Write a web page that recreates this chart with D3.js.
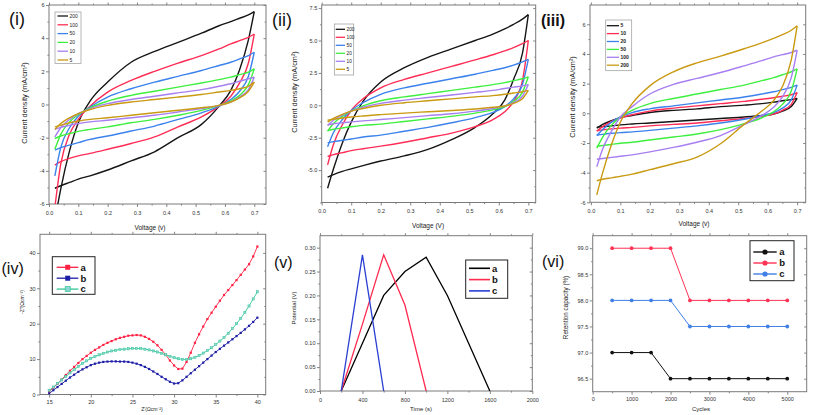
<!DOCTYPE html>
<html><head><meta charset="utf-8">
<script src="https://cdn.jsdelivr.net/npm/d3@7"></script>
<style>body{margin:0;background:#fff} svg{display:block} text{font-family:"Liberation Sans",Arial,sans-serif}</style>
</head><body><svg id="c" width="813" height="415"></svg>
<script>
// ---------- DATA ----------
// CV panels: shared voltage grid (V)
const voltage = [0.02,0.04,0.07,0.1,0.14,0.2,0.28,0.36,0.44,0.52,0.58,0.62,0.65,0.68,0.7];

// Panel (i) scan rates and current density (mA/cm2): forward (up) and reverse (down) branches
const ratesI = ["200","100","50","20","10","5"];
const upI = [
  [-7.0,-5.1,-2.8,-1.1,0.2,1.35,2.55,3.2,3.75,4.3,4.75,5.0,5.2,5.4,5.6],
  [-6.2,-3.6,-1.8,-0.9,-0.1,0.75,1.45,2.0,2.5,2.95,3.35,3.65,3.85,4.05,4.25],
  [-4.3,-2.6,-1.4,-0.7,-0.15,0.45,0.95,1.35,1.7,2.05,2.35,2.55,2.75,2.95,3.15],
  [-2.7,-1.8,-1.05,-0.6,-0.2,0.2,0.55,0.8,1.05,1.3,1.5,1.65,1.8,1.95,2.15],
  [-1.95,-1.4,-0.9,-0.55,-0.25,0.05,0.3,0.5,0.7,0.9,1.1,1.25,1.4,1.55,1.65],
  [-1.5,-1.15,-0.8,-0.55,-0.3,-0.05,0.15,0.3,0.45,0.6,0.75,0.85,0.95,1.1,1.35]
];
const downI = [
  [-5.05,-4.9,-4.7,-4.5,-4.3,-3.95,-3.4,-2.85,-2.0,-1.2,-0.1,0.85,2.1,3.9,5.6],
  [-3.65,-3.45,-3.25,-3.1,-2.95,-2.7,-2.35,-1.95,-1.35,-0.75,-0.1,0.5,1.3,2.5,4.25],
  [-2.75,-2.6,-2.45,-2.3,-2.1,-1.9,-1.6,-1.3,-0.9,-0.5,-0.1,0.3,0.8,1.7,3.15],
  [-2.05,-1.9,-1.75,-1.62,-1.5,-1.35,-1.1,-0.9,-0.65,-0.35,-0.05,0.2,0.55,1.2,2.15],
  [-1.5,-1.38,-1.25,-1.15,-1.05,-0.95,-0.8,-0.65,-0.45,-0.25,-0.05,0.15,0.45,0.9,1.65],
  [-1.35,-1.25,-1.1,-1.0,-0.9,-0.8,-0.65,-0.5,-0.35,-0.2,-0.05,0.15,0.4,0.8,1.35]
];

// Panel (ii)
const ratesII = ["200","100","50","20","10","5"];
const upII = [
  [-6.4,-4.9,-2.9,-1.3,0.3,1.8,2.9,3.7,4.35,5.0,5.5,5.9,6.25,6.65,7.0],
  [-4.6,-3.0,-1.5,-0.4,0.5,1.35,2.0,2.5,3.0,3.5,3.9,4.2,4.45,4.75,5.0],
  [-3.2,-2.1,-1.1,-0.4,0.2,0.85,1.35,1.7,2.05,2.4,2.7,2.9,3.1,3.35,3.55],
  [-2.0,-1.4,-0.85,-0.45,-0.05,0.35,0.65,0.9,1.15,1.4,1.6,1.75,1.9,2.05,2.2],
  [-1.55,-1.15,-0.75,-0.45,-0.15,0.15,0.4,0.6,0.8,1.0,1.15,1.3,1.4,1.5,1.6],
  [-1.3,-1.0,-0.7,-0.45,-0.25,0.0,0.2,0.35,0.5,0.65,0.75,0.85,0.95,1.05,1.15]
];
const downII = [
  [-5.55,-5.35,-5.1,-4.9,-4.65,-4.3,-3.9,-3.4,-2.65,-1.7,-0.65,0.4,2.0,4.0,7.0],
  [-3.95,-3.8,-3.65,-3.5,-3.35,-3.15,-2.85,-2.5,-2.15,-1.65,-1.1,-0.5,0.3,1.9,5.0],
  [-2.9,-2.8,-2.7,-2.6,-2.45,-2.3,-2.0,-1.7,-1.35,-0.95,-0.55,-0.1,0.5,1.6,3.55],
  [-1.95,-1.85,-1.75,-1.65,-1.55,-1.45,-1.25,-1.05,-0.85,-0.6,-0.35,-0.1,0.3,1.0,2.2],
  [-1.5,-1.42,-1.35,-1.28,-1.2,-1.1,-0.95,-0.8,-0.65,-0.45,-0.25,-0.05,0.2,0.7,1.6],
  [-1.15,-1.08,-0.98,-0.9,-0.82,-0.72,-0.6,-0.5,-0.4,-0.28,-0.15,-0.05,0.15,0.5,1.15]
];

// Panel (iii)
const ratesIII = ["5","10","20","50","100","200"];
const upIII = [
  [-1.0,-0.75,-0.5,-0.3,-0.15,0.05,0.2,0.3,0.45,0.55,0.65,0.75,0.85,0.92,1.0],
  [-1.2,-0.9,-0.55,-0.3,-0.1,0.15,0.35,0.5,0.65,0.8,0.95,1.05,1.15,1.25,1.4],
  [-1.5,-1.1,-0.6,-0.25,0.05,0.3,0.5,0.7,0.9,1.1,1.3,1.45,1.6,1.75,1.9],
  [-2.35,-1.6,-0.8,-0.25,0.2,0.65,1.0,1.3,1.6,1.9,2.2,2.4,2.6,2.8,3.0],
  [-3.6,-2.4,-1.2,-0.25,0.45,1.3,1.95,2.35,2.75,3.2,3.55,3.8,3.95,4.1,4.25],
  [-5.5,-4.0,-2.1,-0.6,0.65,1.85,2.8,3.4,3.85,4.35,4.75,5.05,5.3,5.6,5.9]
];
const downIII = [
  [-0.95,-0.9,-0.85,-0.78,-0.72,-0.65,-0.55,-0.45,-0.35,-0.25,-0.15,-0.05,0.15,0.45,1.0],
  [-1.18,-1.12,-1.05,-1.0,-0.95,-0.85,-0.75,-0.65,-0.5,-0.35,-0.2,-0.05,0.2,0.6,1.4],
  [-1.48,-1.42,-1.35,-1.3,-1.25,-1.15,-1.0,-0.85,-0.65,-0.4,-0.15,0.05,0.35,0.9,1.9],
  [-2.22,-2.17,-2.1,-2.02,-1.95,-1.8,-1.6,-1.4,-1.1,-0.7,-0.3,0.1,0.6,1.5,3.0],
  [-3.1,-3.05,-2.97,-2.9,-2.8,-2.6,-2.3,-1.95,-1.5,-0.75,-0.15,0.4,1.1,2.4,4.25],
  [-4.55,-4.45,-4.35,-4.25,-4.1,-3.8,-3.4,-2.95,-2.05,-0.75,0.15,0.85,1.8,3.6,5.9]
];

// Panel (iv) impedance: Z' (ohm cm-2) and -Z''
const zReal = [15,15.5,16,16.5,17,17.5,18,18.5,19,19.5,20,20.5,21,21.5,22,22.5,23,23.5,24,24.5,25,25.5,26,26.5,27,27.5,28,28.5,29,29.5,30,30.5,31,31.5,32,32.5,33,33.5,34,34.5,35,35.5,36,36.5,37,37.5,38,38.5,39,39.5,40];
const zImagA = [0.8,1.9,3.0,4.2,5.5,6.7,7.8,8.9,10.0,10.9,11.8,12.6,13.3,14.0,14.6,15.1,15.6,16.0,16.3,16.6,16.7,16.8,16.7,16.3,15.7,14.9,13.9,12.6,11.2,9.6,8.2,7.2,7.3,9.2,11.8,14.6,17.0,19.2,21.3,23.1,24.8,26.5,28.1,29.5,30.9,32.3,33.8,35.3,36.8,39.0,41.8];
const zImagB = [0.3,1.2,2.1,3.0,3.9,4.8,5.6,6.4,7.1,7.7,8.3,8.7,9.0,9.2,9.3,9.35,9.35,9.3,9.3,9.2,9.0,8.7,8.3,7.8,7.2,6.5,5.8,5.0,4.3,3.6,3.1,3.2,4.0,5.0,6.0,7.0,8.0,9.0,10.0,11.0,12.0,12.9,13.8,14.7,15.6,16.5,17.4,18.4,19.4,20.5,21.7];
const zImagC = [1.2,2.1,3.1,4.1,5.1,6.1,7.0,7.9,8.8,9.5,10.2,10.7,11.2,11.6,12.0,12.3,12.5,12.7,12.8,12.9,13.0,13.0,13.0,12.8,12.6,12.3,12.0,11.6,11.2,10.8,10.4,10.1,9.9,9.9,10.1,10.5,11.0,11.7,12.4,13.2,14.1,15.1,16.1,17.3,18.6,20.0,21.5,23.2,25.0,27.0,29.0];

// Panel (v) charge-discharge: time (s), potential (V)
const gcdTimeA = [200,400,600,800,1000,1200,1600];
const gcdPotA  = [0,0.10,0.20,0.25,0.28,0.20,0];
const gcdTimeB = [200,400,600,800,1000];
const gcdPotB  = [0,0.14,0.285,0.18,0];
const gcdTimeC = [200,400,600];
const gcdPotC  = [0,0.285,0];

// Panel (vi) cycling retention
const cycles = [500,1000,1500,2000,2500,3000,3500,4000,4500,5000];
const retA = [97,97,97,96.5,96.5,96.5,96.5,96.5,96.5,96.5];
const retB = [99,99,99,99,98,98,98,98,98,98];
const retC = [98,98,98,98,97.5,97.5,97.5,97.5,97.5,97.5];
const seriesNames = ["a","b","c"];

// Tick values
const cvXTicks = [0,0.1,0.2,0.3,0.4,0.5,0.6,0.7];
const cvXMinor = [0.05,0.15,0.25,0.35,0.45,0.55,0.65];
const cvYTicks = [-6,-4,-2,0,2,4,6];
const cvYMinor = [-5,-3,-1,1,3,5];
const iiYTicks = [-5,-2.5,0,2.5,5,7.5];
const iiYMinor = [-7.5,-6.25,-3.75,-1.25,1.25,3.75,6.25];
const ivXTicks = [15,20,25,30,35,40];
const ivXMinor = [17.5,22.5,27.5,32.5,37.5];
const ivYTicks = [0,10,20,30,40];
const ivYMinor = [5,15,25,35];
const vXTicks = [0,400,800,1200,1600,2000];
const vXMinor = [200,600,1000,1400,1800];
const vYTicks = [0,0.05,0.1,0.15,0.2,0.25,0.3];
const vYMinor = [0.025,0.075,0.125,0.175,0.225,0.275];
const viXTicks = [0,1000,2000,3000,4000,5000];
const viXMinor = [500,1500,2500,3500,4500];
const viYTicks = [96.5,97,97.5,98,98.5,99];
const viYMinor = [96.75,97.25,97.75,98.25,98.75];

// ---------- DRAWING ----------
const svg = d3.select("#c");
const FONT = '"Liberation Sans",Arial,sans-serif';
let clipN = 0;

function makePanel(P) {
  const x = d3.scaleLinear().domain(P.xd).range([P.l, P.r]);
  const y = d3.scaleLinear().domain(P.yd).range([P.b, P.t]);
  const g = svg.append("g");
  const id = "clip" + (clipN++);
  svg.append("clipPath").attr("id", id).append("rect")
    .attr("x", P.l).attr("y", P.t).attr("width", P.r - P.l).attr("height", P.b - P.t);
  const ax = (gen, tr, fs) => {
    const a = g.append("g").attr("transform", tr).call(gen);
    a.select(".domain").remove();
    a.selectAll("line").attr("stroke", "#666").attr("stroke-width", 0.8);
    a.selectAll("text").attr("fill", "#333").attr("font-size", fs || 5.5).attr("font-family", FONT);
    return a;
  };
  ax(d3.axisBottom(x).tickValues(P.xt).tickSize(3).tickPadding(P.xpad).tickFormat(P.xf), `translate(0,${P.b})`);
  ax(d3.axisBottom(x).tickValues(P.xm).tickSize(1.6).tickFormat(""), `translate(0,${P.b})`);
  ax(d3.axisLeft(y).tickValues(P.yt).tickSize(3).tickPadding(1.5).tickFormat(P.yf), `translate(${P.l},0)`);
  ax(d3.axisLeft(y).tickValues(P.ym).tickSize(1.6).tickFormat(""), `translate(${P.l},0)`);
  ax(d3.axisTop(x).tickValues(P.xt).tickSize(2.5).tickFormat(""), `translate(0,${P.t})`);
  ax(d3.axisTop(x).tickValues(P.xm).tickSize(1.4).tickFormat(""), `translate(0,${P.t})`);
  ax(d3.axisRight(y).tickValues(P.yt).tickSize(-2.5).tickFormat(""), `translate(${P.r},0)`);
  ax(d3.axisRight(y).tickValues(P.ym).tickSize(-1.4).tickFormat(""), `translate(${P.r},0)`);
  g.append("rect").attr("x", P.l).attr("y", P.t).attr("width", P.r - P.l).attr("height", P.b - P.t)
    .attr("fill", "none").attr("stroke", "#7a7a7a").attr("stroke-width", 1);
  const plot = g.append("g").attr("clip-path", `url(#${id})`);
  // titles
  g.append("text").attr("x", P.xtx).attr("y", P.xty).attr("text-anchor", "middle")
    .attr("font-size", P.tfs || 6.5).attr("fill", "#222").text(P.xTitle);
  g.append("text").attr("transform", `translate(${P.ytx},${P.yty}) rotate(-90)`).attr("text-anchor", "middle")
    .attr("dy", "0.35em").attr("font-size", P.yfs || 6.5).attr("fill", "#222").text(P.yTitle);
  g.append("text").attr("x", P.lx).attr("y", P.ly).attr("font-size", P.lfs || 17)
    .attr("font-weight", P.lbold ? "bold" : "normal").attr("fill", "#111").text(P.label);
  return { x, y, g, plot };
}

const cvColors = { black: "#151515", red: "#ff2d55", blue: "#3b82ec", green: "#3fef3f", purple: "#a77ff0", gold: "#c99a12" };

function cvPanel(P, rates, colors, up, down, L) {
  const { x, y, g, plot } = makePanel(P);
  const line = d3.line().x((d, i) => x(voltage[i])).y(d => y(d)).curve(d3.curveMonotoneX);
  rates.forEach((r, k) => {
    [up[k], down[k]].forEach(arr => {
      plot.append("path").attr("d", line(arr)).attr("fill", "none")
        .attr("stroke", colors[k]).attr("stroke-width", 1.4).attr("stroke-linejoin", "round");
    });
  });
  // legend
  const lg = g.append("g");
  lg.append("rect").attr("x", L.x0).attr("y", L.y0).attr("width", L.x1 - L.x0).attr("height", L.y1 - L.y0)
    .attr("fill", "#fff").attr("stroke", "#999").attr("stroke-width", 0.7);
  rates.forEach((r, k) => {
    const yy = L.r0 + k * L.dr;
    lg.append("line").attr("x1", L.lx0).attr("x2", L.lx1).attr("y1", yy).attr("y2", yy)
      .attr("stroke", colors[k]).attr("stroke-width", 1.3);
    lg.append("text").attr("x", L.tx).attr("y", yy).attr("dy", "0.35em").attr("font-size", L.fs)
      .attr("font-weight", L.bold ? "bold" : "normal").attr("fill", "#222").text(r);
  });
}

const C = cvColors;
const fmt1 = d => d.toFixed(1);
const fmtInt = d => String(d);

cvPanel({ l: 49, r: 266, t: 5, b: 204, xd: [0, 0.74], yd: [-6, 6],
  xt: cvXTicks, xm: cvXMinor, yt: cvYTicks, ym: cvYMinor, xf: fmt1, yf: fmtInt, xpad: 4,
  xTitle: "Voltage (v)", xtx: 150, xty: 229.5, yTitle: "Current density (mA/cm²)", ytx: 24, yty: 103, yfs: 7.3,
  label: "(i)", lx: 9, ly: 25, lfs: 18 },
  ratesI, [C.black, C.red, C.blue, C.green, C.purple, C.gold], upI, downI,
  { x0: 55, x1: 81, y0: 12, y1: 63.5, r0: 16, dr: 8.8, lx0: 57.5, lx1: 68, tx: 69.5, fs: 5 });

cvPanel({ l: 321.7, r: 535.7, t: 5, b: 202.5, xd: [0, 0.725], yd: [-7.5, 7.74],
  xt: cvXTicks, xm: cvXMinor, yt: iiYTicks, ym: iiYMinor, xf: fmt1, yf: fmt1, xpad: 4,
  xTitle: "Voltage (V)", xtx: 428, xty: 228, yTitle: "Current density (mA/cm²)", ytx: 294, yty: 92, yfs: 7.3,
  label: "(ii)", lx: 272, ly: 26, lfs: 18 },
  ratesII, [C.black, C.red, C.blue, C.green, C.purple, C.gold], upII, downII,
  { x0: 334.3, x1: 353.7, y0: 24, y1: 75, r0: 29.3, dr: 8, lx0: 335.7, lx1: 345, tx: 346.5, fs: 4.8 });

cvPanel({ l: 590, r: 805.7, t: 5, b: 202.3, xd: [-0.003, 0.729], yd: [-6, 7.3],
  xt: cvXTicks, xm: cvXMinor, yt: cvYTicks, ym: cvYMinor, xf: fmt1, yf: fmtInt, xpad: 4,
  xTitle: "Voltage (v)", xtx: 694, xty: 225.5, yTitle: "Current density (mA/cm²)", ytx: 572, yty: 97, yfs: 7.3,
  label: "(iii)", lx: 541, ly: 26, lfs: 16, lbold: true },
  ratesIII, [C.black, C.red, C.blue, C.green, C.purple, C.gold], upIII, downIII,
  { x0: 605.7, x1: 631.7, y0: 20, y1: 70.7, r0: 25.7, dr: 7.9, lx0: 606.8, lx1: 619, tx: 620.5, fs: 5, bold: true });

// Panel (iv)
(function () {
  const P = { l: 40, r: 265.7, t: 234.3, b: 394.5, xd: [13.9, 41], yd: [0, 45.25],
    xt: ivXTicks, xm: ivXMinor, yt: ivYTicks, ym: ivYMinor, xf: fmtInt, yf: fmtInt, xpad: 2.3,
    xTitle: "Z'(Ωcm⁻²)", xtx: 152, xty: 411, tfs: 5, yTitle: "-Z''(Ωcm⁻²)", ytx: 22.5, yty: 302, yfs: 5,
    label: "(iv)", lx: 1.5, ly: 274, lfs: 16 };
  const { x, y, g, plot } = makePanel(P);
  const cols = ["#ff2244", "#1d1da6", "#33c795"];
  const fills = ["#ff2244", "#1d1da6", "#8ed6d6"];
  const sets = [zImagA, zImagB, zImagC];
  const line = d3.line().x((d, i) => x(zReal[i])).y(d => y(d));
  sets.forEach((s, k) => {
    plot.append("path").attr("d", line(s)).attr("fill", "none").attr("stroke", cols[k]).attr("stroke-width", 0.9);
  });
  sets.forEach((s, k) => {
    plot.selectAll(null).data(s).enter().append("rect")
      .attr("x", (d, i) => x(zReal[i]) - 1.1).attr("y", d => y(d) - 1.1)
      .attr("width", 2.2).attr("height", 2.2).attr("fill", fills[k])
      .attr("stroke", k === 2 ? cols[k] : "none").attr("stroke-width", 0.5);
  });
  const lg = g.append("g");
  lg.append("rect").attr("x", 52.3).attr("y", 256.7).attr("width", 42.7).attr("height", 37.6)
    .attr("fill", "#fff").attr("stroke", "#222").attr("stroke-width", 1);
  seriesNames.forEach((n, k) => {
    const yy = 267.3 + k * 10.9;
    lg.append("line").attr("x1", 56.7).attr("x2", 78.3).attr("y1", yy).attr("y2", yy).attr("stroke", cols[k]).attr("stroke-width", 1.3);
    lg.append("rect").attr("x", 65.2).attr("y", yy - 2.5).attr("width", 5).attr("height", 5).attr("fill", fills[k])
      .attr("stroke", k === 2 ? cols[k] : "none").attr("stroke-width", 0.7);
    lg.append("text").attr("x", 80.5).attr("y", yy).attr("dy", "0.35em").attr("font-size", 9.5)
      .attr("font-weight", "bold").attr("fill", "#111").text(n);
  });
})();

// Panel (v)
(function () {
  const P = { l: 320, r: 532.3, t: 235.7, b: 391, xd: [0, 2000], yd: [0, 0.325],
    xt: vXTicks, xm: vXMinor, yt: vYTicks, ym: vYMinor, xf: fmtInt, yf: d => d.toFixed(2), xpad: 4,
    xTitle: "Time (s)", xtx: 421, xty: 410.5, tfs: 6, yTitle: "Potential (V)", ytx: 294, yty: 308, yfs: 6,
    label: "(v)", lx: 274, ly: 268, lfs: 16 };
  const { x, y, g, plot } = makePanel(P);
  const cols = ["#000000", "#ff2a50", "#2a3fd2"];
  const sets = [[gcdTimeA, gcdPotA], [gcdTimeB, gcdPotB], [gcdTimeC, gcdPotC]];
  sets.forEach(([t, v], k) => {
    const line = d3.line().x((d, i) => x(t[i])).y(d => y(d));
    plot.append("path").attr("d", line(v)).attr("fill", "none").attr("stroke", cols[k]).attr("stroke-width", 1.3);
  });
  const lg = g.append("g");
  lg.append("rect").attr("x", 465.7).attr("y", 260).attr("width", 42).attr("height", 38.3)
    .attr("fill", "#fff").attr("stroke", "#222").attr("stroke-width", 1);
  seriesNames.forEach((n, k) => {
    const yy = 268.3 + k * 11.3;
    lg.append("line").attr("x1", 469).attr("x2", 490).attr("y1", yy).attr("y2", yy).attr("stroke", cols[k]).attr("stroke-width", 1.6);
    lg.append("text").attr("x", 492).attr("y", yy).attr("dy", "0.35em").attr("font-size", 9.5)
      .attr("font-weight", "bold").attr("fill", "#111").text(n);
  });
})();

// Panel (vi)
(function () {
  const P = { l: 592.7, r: 806.7, t: 235.7, b: 391.7, xd: [0, 5500], yd: [96.25, 99.24],
    xt: viXTicks, xm: viXMinor, yt: viYTicks, ym: viYMinor, xf: fmtInt, yf: fmt1, xpad: 2.7,
    xTitle: "Cycles", xtx: 701, xty: 411, tfs: 6, yTitle: "Retention capacity (%)", ytx: 566, yty: 307.5, yfs: 6.3,
    label: "(vi)", lx: 542, ly: 267, lfs: 16 };
  const { x, y, g, plot } = makePanel(P);
  const cols = ["#111111", "#ff3355", "#3f7fe6"];
  const sets = [retA, retB, retC];
  const line = d3.line().x((d, i) => x(cycles[i])).y(d => y(d));
  sets.forEach((s, k) => {
    plot.append("path").attr("d", line(s)).attr("fill", "none").attr("stroke", cols[k]).attr("stroke-width", 1);
    plot.selectAll(null).data(s).enter().append("circle")
      .attr("cx", (d, i) => x(cycles[i])).attr("cy", d => y(d)).attr("r", 1.9).attr("fill", cols[k]);
  });
  const lg = g.append("g");
  lg.append("rect").attr("x", 750).attr("y", 240.7).attr("width", 44).attr("height", 40)
    .attr("fill", "#fff").attr("stroke", "#222").attr("stroke-width", 1);
  seriesNames.forEach((n, k) => {
    const yy = 252 + k * 11;
    lg.append("line").attr("x1", 753.3).attr("x2", 776.7).attr("y1", yy).attr("y2", yy).attr("stroke", cols[k]).attr("stroke-width", 1.4);
    lg.append("circle").attr("cx", 765).attr("cy", yy).attr("r", 2.6).attr("fill", cols[k]);
    lg.append("text").attr("x", 779.3).attr("y", yy).attr("dy", "0.35em").attr("font-size", 9.5)
      .attr("font-weight", "bold").attr("fill", "#111").text(n);
  });
})();
</script></body></html>
